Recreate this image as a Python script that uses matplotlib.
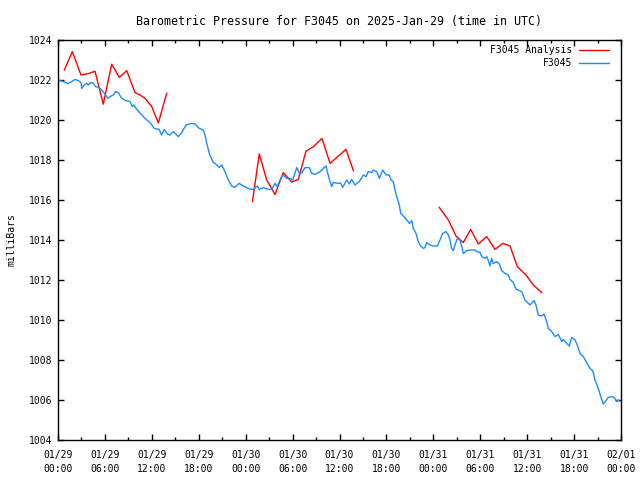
import numpy as np
import matplotlib
matplotlib.use("Agg")
import matplotlib.pyplot as plt
from matplotlib.ticker import MultipleLocator

# hours since 2025-01-29 00:00 UTC
obs_hours = [0.04, 0.68, 1.32, 1.75, 2.17, 2.60, 2.94, 3.03, 3.36, 3.67, 3.88, 4.22, 4.51, 4.82,
             5.24, 5.59, 6.01, 6.36, 6.65, 7.07, 7.38, 7.71, 8.15, 8.66, 9.21, 9.50, 9.72, 10.06,
             10.61, 11.13, 11.77, 12.32, 12.92, 13.26, 13.59, 13.98, 14.32, 14.75, 15.39, 15.82,
             16.37, 17.10, 17.52, 18.07, 18.58, 18.80, 19.02, 19.35, 19.78, 20.30, 20.63, 20.94,
             21.36, 21.78, 22.21, 22.64, 23.15, 23.70, 24.47, 24.98, 25.49, 25.74, 26.26, 26.90,
             27.33, 27.75, 28.05, 28.48, 28.81, 29.25, 29.67, 30.02, 30.53, 30.86, 31.17, 31.59,
             32.14, 32.45, 32.87, 33.51, 33.93, 34.27, 34.44, 34.79, 35.00, 35.21, 35.85, 36.15,
             36.41, 36.92, 37.25, 37.56, 37.98, 38.53, 39.04, 39.39, 39.68, 40.12, 40.32, 40.76,
             41.09, 41.53, 41.95, 42.37, 42.59, 42.88, 43.10, 43.32, 43.65, 43.83, 44.16, 44.60,
             44.93, 45.24, 45.44, 45.78, 46.08, 46.39, 46.72, 46.94, 47.15, 47.58, 48.00, 48.51,
             48.85, 49.20, 49.62, 49.92, 50.13, 50.35, 50.55, 50.77, 51.07, 51.41, 51.63, 51.83,
             52.27, 52.69, 53.33, 53.55, 53.97, 54.19, 54.61, 54.83, 55.03, 55.25, 55.46, 55.67,
             56.10, 56.44, 56.74, 57.17, 57.59, 57.81, 58.23, 58.57, 58.87, 59.30, 59.72, 60.36,
             60.87, 61.13, 61.42, 61.86, 62.15, 62.50, 62.70, 63.14, 63.56, 63.98, 64.42, 64.62,
             64.97, 65.39, 65.70, 66.12, 66.41, 66.76, 67.18, 67.62, 68.04, 68.38, 68.68, 69.10,
             69.41, 69.74, 70.08, 70.38, 70.94, 71.23, 71.45, 71.66, 71.78]
obs_mb = [1022.00, 1021.92, 1021.83, 1021.92, 1022.03, 1021.97, 1021.87, 1021.58, 1021.75, 1021.83,
          1021.75, 1021.88, 1021.83, 1021.67, 1021.62, 1021.50, 1021.30, 1021.08, 1021.17, 1021.25,
          1021.42, 1021.37, 1021.08, 1020.97, 1020.92, 1020.67, 1020.75, 1020.53, 1020.30, 1020.08,
          1019.87, 1019.58, 1019.53, 1019.25, 1019.53, 1019.30, 1019.25, 1019.42, 1019.17, 1019.37,
          1019.75, 1019.83, 1019.80, 1019.58, 1019.50, 1019.25, 1018.83, 1018.33, 1017.92, 1017.75,
          1017.63, 1017.75, 1017.42, 1017.00, 1016.70, 1016.63, 1016.83, 1016.70, 1016.55, 1016.53,
          1016.70, 1016.53, 1016.62, 1016.53, 1016.53, 1016.83, 1016.67, 1017.08, 1017.25, 1017.08,
          1017.08, 1017.00, 1017.62, 1017.33, 1017.35, 1017.62, 1017.62, 1017.33, 1017.28, 1017.42,
          1017.58, 1017.70, 1017.42, 1016.92, 1016.67, 1016.88, 1016.83, 1016.85, 1016.63, 1017.00,
          1016.80, 1017.03, 1016.75, 1016.92, 1017.25, 1017.17, 1017.42, 1017.37, 1017.50, 1017.42,
          1017.08, 1017.50, 1017.25, 1017.25, 1017.00, 1016.92, 1016.50, 1016.17, 1015.75, 1015.33,
          1015.20, 1015.00, 1014.83, 1014.97, 1014.58, 1014.33, 1013.92, 1013.70, 1013.58, 1013.63,
          1013.87, 1013.75, 1013.70, 1013.70, 1014.00, 1014.33, 1014.42, 1014.25, 1014.00, 1013.58,
          1013.47, 1013.75, 1014.08, 1014.00, 1013.67, 1013.33, 1013.47, 1013.50, 1013.50, 1013.42,
          1013.38, 1013.17, 1013.08, 1013.17, 1012.97, 1012.70, 1013.08, 1012.83, 1012.92, 1012.80,
          1012.47, 1012.33, 1012.25, 1012.03, 1011.87, 1011.53, 1011.50, 1011.42, 1011.00, 1010.75,
          1010.97, 1010.75, 1010.25, 1010.20, 1010.30, 1009.92, 1009.58, 1009.42, 1009.17, 1009.28,
          1008.92, 1009.03, 1008.87, 1008.70, 1009.13, 1009.00, 1008.75, 1008.33, 1008.17, 1007.87,
          1007.58, 1007.47, 1007.00, 1006.58, 1006.17, 1005.80, 1005.97, 1006.13, 1006.17, 1006.08,
          1005.92, 1006.00, 1005.95]

# analysis, gaps marked with nan
ana_hours = [0.81, 1.83, 2.94, 3.88, 4.73, 5.79, 6.87, 7.84, 8.79, 9.85, 10.49, 11.13, 11.98, 12.83, 13.90,
             np.nan,
             24.87, 25.74, 26.69, 27.75, 28.81, 29.89, 30.73, 31.72, 32.61, 33.76, 34.79, 36.83, 37.77,
             np.nan,
             48.76, 49.92, 50.90, 51.83, 52.78, 53.75, 54.83, 55.89, 56.87, 57.81, 58.74, 59.85, 60.79, 61.86]
ana_mb = [1022.50, 1023.42, 1022.25, 1022.32, 1022.44, 1020.79, 1022.79, 1022.13, 1022.47, 1021.37,
          1021.25, 1021.08, 1020.68, 1019.85, 1021.33,
          np.nan,
          1015.93, 1018.30, 1017.00, 1016.28, 1017.37, 1016.90, 1017.03, 1018.45, 1018.65, 1019.08,
          1017.83, 1018.53, 1017.47,
          np.nan,
          1015.63, 1015.00, 1014.20, 1013.87, 1014.53, 1013.80, 1014.17, 1013.53, 1013.83, 1013.70,
          1012.67, 1012.25, 1011.75, 1011.37]

tick_hours = list(range(0, 73, 6))
tick_labels = ["01/29\n00:00", "01/29\n06:00", "01/29\n12:00", "01/29\n18:00",
               "01/30\n00:00", "01/30\n06:00", "01/30\n12:00", "01/30\n18:00",
               "01/31\n00:00", "01/31\n06:00", "01/31\n12:00", "01/31\n18:00",
               "02/01\n00:00"]

plt.rcParams['font.family'] = 'DejaVu Sans Mono'
plt.rcParams['font.size'] = 7

fig = plt.figure(figsize=(6.4, 4.8), dpi=100)
ax = fig.add_axes([58/640, 40/480, 563/640, 400/480])

ax.plot(ana_hours, ana_mb, color="#ff0000", lw=1, label="F3045 Analysis")
ax.plot(obs_hours, obs_mb, color="#1a8cff", lw=1, label="F3045")

ax.set_xlim(0, 72)
ax.set_ylim(1004, 1024)
ax.set_xticks(tick_hours)
ax.set_xticklabels(tick_labels, linespacing=1.45)
ax.xaxis.set_minor_locator(MultipleLocator(3))
ax.set_yticks(np.arange(1004, 1025, 2))
ax.tick_params(which="both", direction="in", top=True, right=True, width=1, color="black")
ax.tick_params(which="major", length=4.5)
ax.tick_params(which="minor", length=2.5)
ax.tick_params(axis="x", which="major", pad=7.5)
ax.tick_params(axis="y", pad=4)
for s in ax.spines.values():
    s.set_linewidth(1)

ax.set_ylabel("milliBars", labelpad=9)
ax.set_title("Barometric Pressure for F3045 on 2025-Jan-29 (time in UTC)", pad=11)

ax.legend(loc="upper right", bbox_to_anchor=(1 - 7/563, 1), markerfirst=False, frameon=False,
          handlelength=3.0, handletextpad=0.7, labelspacing=0.3, borderaxespad=0.2, borderpad=0.35)

fig.savefig("out.png", dpi=100)
